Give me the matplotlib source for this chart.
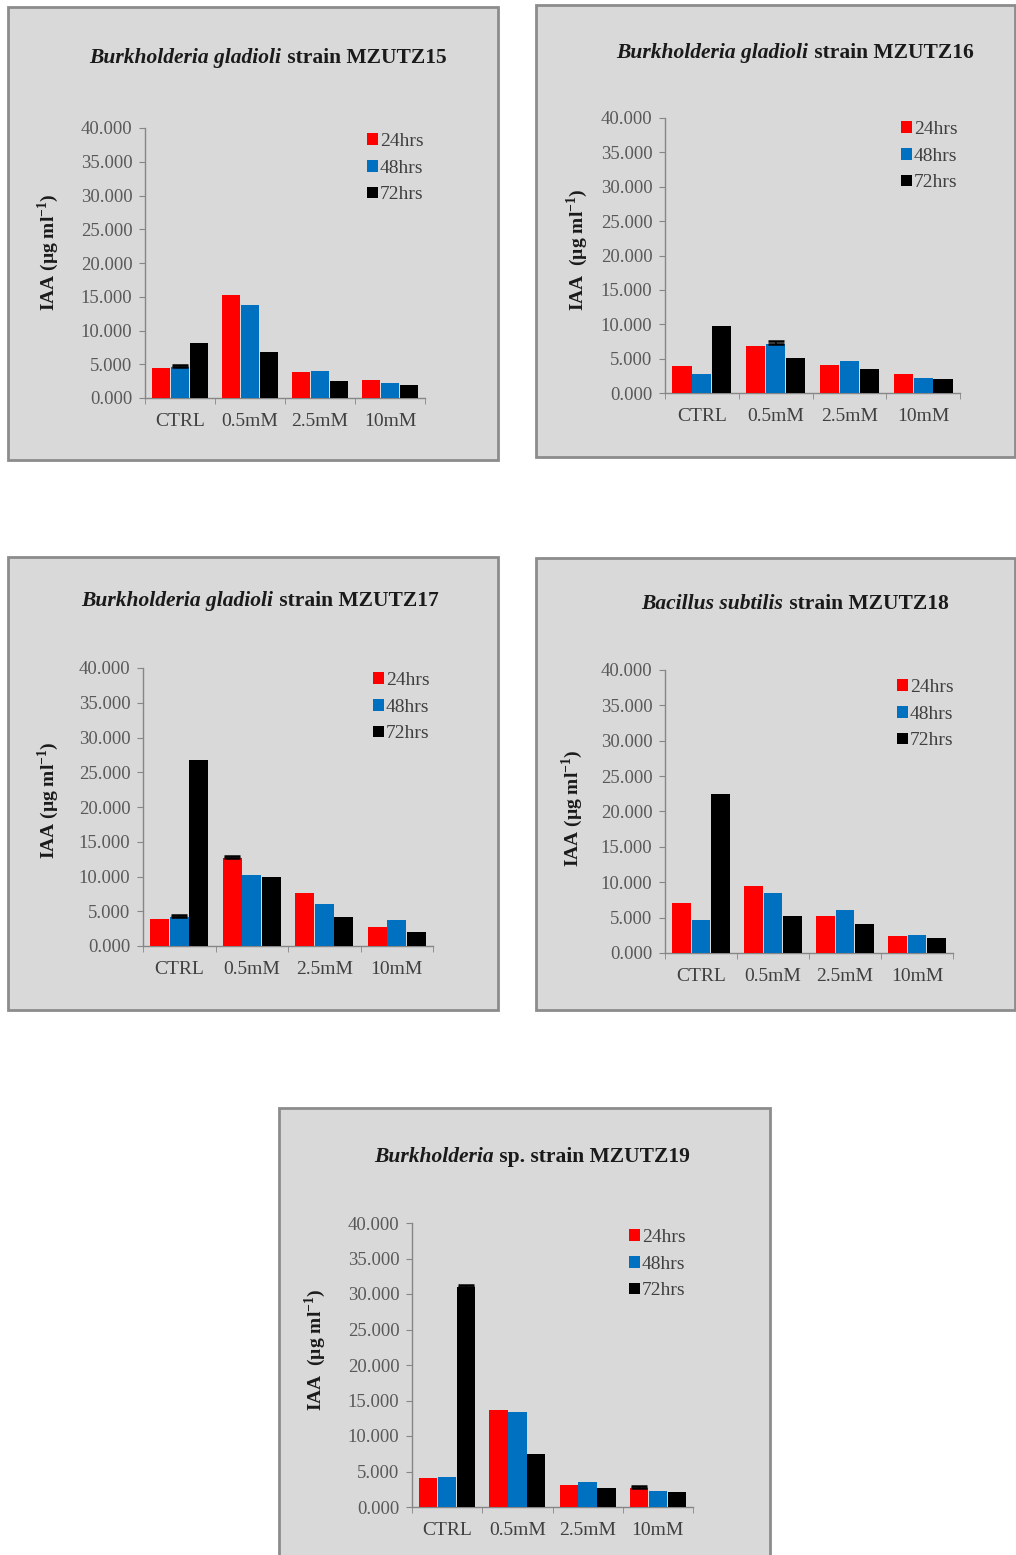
import matplotlib
matplotlib.use("Agg")
import matplotlib.pyplot as plt
import numpy as np
from matplotlib.patches import Rectangle
from matplotlib.offsetbox import TextArea, HPacker, AnchoredOffsetbox
from matplotlib.ticker import FixedLocator, FormatStrFormatter

plt.rcParams['font.family'] = ['Liberation Serif', 'DejaVu Serif']
plt.rcParams['mathtext.fontset'] = 'custom'
plt.rcParams['mathtext.rm'] = 'Liberation Serif'
plt.rcParams['mathtext.bf'] = 'Liberation Serif:bold'

categories = ['CTRL', '0.5mM', '2.5mM', '10mM']
series_labels = ['24hrs', '48hrs', '72hrs']
series_colors = ['#FF0000', '#0070C0', '#000000']

# IAA (µg/ml) per strain: 24 h, 48 h, 72 h
mzutz15_24 = [4.4, 15.3, 3.8, 2.6]
mzutz15_48 = [4.6, 13.8, 4.0, 2.2]
mzutz15_72 = [8.2, 6.8, 2.5, 2.0]
mzutz15_err = [[0, 0, 0, 0], [0.3, 0, 0, 0], [0, 0, 0, 0]]

mzutz16_24 = [3.9, 6.8, 4.1, 2.7]
mzutz16_48 = [2.8, 7.2, 4.6, 2.2]
mzutz16_72 = [9.7, 5.1, 3.5, 2.1]
mzutz16_err = [[0, 0, 0, 0], [0, 0.3, 0, 0], [0, 0, 0, 0]]

mzutz17_24 = [3.9, 12.7, 7.6, 2.7]
mzutz17_48 = [4.2, 10.2, 6.1, 3.7]
mzutz17_72 = [26.7, 10.0, 4.2, 2.0]
mzutz17_err = [[0, 0.3, 0, 0], [0.3, 0, 0, 0], [0, 0, 0, 0]]

mzutz18_24 = [7.0, 9.5, 5.2, 2.4]
mzutz18_48 = [4.6, 8.5, 6.1, 2.5]
mzutz18_72 = [22.5, 5.3, 4.1, 2.1]
mzutz18_err = [[0, 0, 0, 0], [0, 0, 0, 0], [0, 0, 0, 0]]

mzutz19_24 = [4.1, 13.7, 3.1, 2.7]
mzutz19_48 = [4.2, 13.4, 3.5, 2.2]
mzutz19_72 = [31.0, 7.5, 2.7, 2.1]
mzutz19_err = [[0, 0, 0, 0.3], [0, 0, 0, 0], [0.3, 0, 0, 0]]

W, H = 1016, 1555
fig = plt.figure(figsize=(W / 100, H / 100), dpi=100)
fig.patch.set_facecolor('white')

def px_rect(x0, y0, x1, y1):
    """pixel box (top-left origin) -> figure fraction [l, b, w, h]"""
    return [x0 / W, 1 - y1 / H, (x1 - x0) / W, (y1 - y0) / H]

ylab_single = r'IAA (µg ml$^{\mathbf{-1}}$)'
ylab_double = r'IAA  (µg ml$^{\mathbf{-1}}$)'

panels = [
    dict(box=(8, 7, 498, 460), axes=(145, 128, 425, 398),
         title=('Burkholderia gladioli', ' strain MZUTZ15'), title_xy=(268, 58),
         ylabel=ylab_single, ylabel_xy=(48, 252), legend_xy=(367, 133),
         data=(mzutz15_24, mzutz15_48, mzutz15_72), err=mzutz15_err),
    dict(box=(536, 5, 1015, 457), axes=(665, 118, 960, 393),
         title=('Burkholderia gladioli', ' strain MZUTZ16'), title_xy=(795, 53),
         ylabel=ylab_double, ylabel_xy=(577, 250), legend_xy=(901, 121),
         data=(mzutz16_24, mzutz16_48, mzutz16_72), err=mzutz16_err),
    dict(box=(8, 557, 498, 1010), axes=(143, 668, 433, 946),
         title=('Burkholderia gladioli', ' strain MZUTZ17'), title_xy=(260, 601),
         ylabel=ylab_single, ylabel_xy=(48, 800), legend_xy=(373, 672),
         data=(mzutz17_24, mzutz17_48, mzutz17_72), err=mzutz17_err),
    dict(box=(536, 558, 1015, 1010), axes=(665, 670, 953, 953),
         title=('Bacillus subtilis', ' strain MZUTZ18'), title_xy=(795, 604),
         ylabel=ylab_single, ylabel_xy=(572, 808), legend_xy=(897, 679),
         data=(mzutz18_24, mzutz18_48, mzutz18_72), err=mzutz18_err),
    dict(box=(279, 1108, 770, 1570), axes=(412, 1223, 693, 1507),
         title=('Burkholderia', ' sp. strain MZUTZ19'), title_xy=(532, 1157),
         ylabel=ylab_double, ylabel_xy=(315, 1350), legend_xy=(629, 1229),
         data=(mzutz19_24, mzutz19_48, mzutz19_72), err=mzutz19_err),
]

tick_grey = '#595959'
axis_grey = '#868686'
x = np.arange(len(categories))
bar_w = 0.26
step = 0.27

for p in panels:
    bx0, by0, bx1, by1 = p['box']
    fig.add_artist(Rectangle((bx0 / W, 1 - by1 / H), (bx1 - bx0) / W, (by1 - by0) / H,
                             transform=fig.transFigure, facecolor='#D9D9D9',
                             edgecolor='#8C8C8C', linewidth=2, zorder=0))
    ax = fig.add_axes(px_rect(*p['axes']))
    ax.set_facecolor('none')
    ax.set_zorder(2)
    handles = []
    for i, (vals, col, lab) in enumerate(zip(p['data'], series_colors, series_labels)):
        pos = x + (i - 1) * step
        bars = ax.bar(pos, vals, width=bar_w, color=col, label=lab, zorder=3)
        handles.append(bars)
        e = np.array(p['err'][i])
        m = e > 0
        if m.any():
            # upper error only; the lower half hides inside the bar
            ax.errorbar(pos[m], np.array(vals)[m], yerr=[np.zeros(m.sum()), e[m]],
                        fmt='none', ecolor='black', elinewidth=1.2, capsize=5.5,
                        capthick=1.8, zorder=4)
    ax.set_xlim(-0.5, 3.5)
    ax.set_ylim(0, 40)
    ax.set_yticks(np.arange(0, 41, 5))
    ax.yaxis.set_major_formatter(FormatStrFormatter('%.3f'))
    ax.set_xticks(x)
    ax.set_xticklabels(categories)
    ax.xaxis.set_minor_locator(FixedLocator([-0.5, 0.5, 1.5, 2.5, 3.5]))
    ax.tick_params(axis='x', which='major', length=0, pad=11, labelsize=14, labelcolor='#404040')
    ax.tick_params(axis='x', which='minor', length=4, color=axis_grey, direction='out')
    ax.tick_params(axis='y', length=4, color=axis_grey, direction='out', pad=5,
                   labelsize=13.5, labelcolor=tick_grey)
    for s in ('top', 'right'):
        ax.spines[s].set_visible(False)
    for s in ('left', 'bottom'):
        ax.spines[s].set_color(axis_grey)
        ax.spines[s].set_linewidth(1.0)

    lx, ly = p['legend_xy']
    fig.legend(handles=handles, labels=series_labels, loc='upper left',
               bbox_to_anchor=(lx / W, 1 - ly / H), bbox_transform=fig.transFigure,
               frameon=False, fontsize=14, handlelength=0.55, handleheight=0.55,
               handletextpad=0.1, labelspacing=0.5, borderpad=0, borderaxespad=0,
               labelcolor='#404040')

    # title: italic species name followed by upright strain text
    ital, rest = p['title']
    tp = dict(family='Liberation Serif', weight='bold', size=15.5, color='#1a1a1a')
    box = HPacker(children=[TextArea(ital, textprops=dict(tp, style='italic')),
                            TextArea(rest, textprops=tp)], align='baseline', pad=0, sep=0)
    tx, ty = p['title_xy']
    fig.add_artist(AnchoredOffsetbox(loc='center', child=box, frameon=False, pad=0,
                                     borderpad=0, bbox_to_anchor=(tx / W, 1 - ty / H),
                                     bbox_transform=fig.transFigure))

    yx, yy = p['ylabel_xy']
    fig.text(yx / W, 1 - yy / H, p['ylabel'], rotation=90,
             ha='center', va='center', fontsize=14, fontweight='bold', color='#1a1a1a')

fig.savefig('out.png', dpi=100, facecolor='white')
